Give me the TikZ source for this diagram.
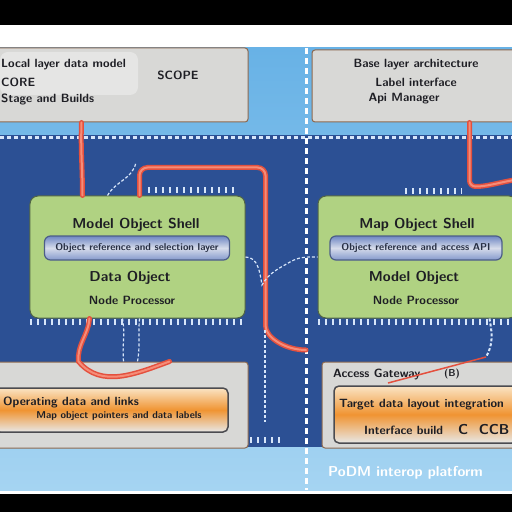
\documentclass[tikz,border=0pt]{standalone}
\usepackage{amsmath, amssymb}
\usetikzlibrary{arrows}
\usetikzlibrary{shapes}

\definecolor{skyBlue}{RGB}{104,178,230}
\definecolor{skyPale}{RGB}{165,212,242}
\definecolor{panelBlue}{RGB}{44,80,148}
\definecolor{boxGray}{RGB}{216,216,214}
\definecolor{boxEdge}{RGB}{140,105,80}
\definecolor{leafGreen}{RGB}{176,210,130}
\definecolor{leafEdge}{RGB}{80,100,70}
\definecolor{pillBlue}{RGB}{110,135,195}
\definecolor{pillPale}{RGB}{215,220,235}
\definecolor{wireRed}{RGB}{228,80,62}
\definecolor{wirePale}{RGB}{245,140,120}
\definecolor{tickWhite}{RGB}{215,230,250}
\definecolor{inkDark}{RGB}{30,30,36}
\definecolor{orangeDeep}{RGB}{240,148,50}
\definecolor{orangePale}{RGB}{250,228,196}

\begin{document}
\begin{tikzpicture}[x = 1bp, y = -1bp, font=\sffamily\bfseries]
	\tikzstyle{grayBoxStyle} = [draw = boxEdge, line width = 1bp, fill = boxGray, rounded corners = 3bp, inner sep = 0pt]
	\tikzstyle{greenBoxStyle} = [draw = leafEdge, line width = 1bp, fill = leafGreen, rounded corners = 8bp, inner sep = 0pt]
	\tikzstyle{pillStyle} = [draw = pillBlue!70!black, line width = 1.2bp, top color = pillBlue, bottom color = pillBlue!85, middle color = pillPale, rounded corners = 6bp, inner sep = 0pt, text = pillBlue!35!black]
	\tikzstyle{orangeStyle} = [draw = inkDark!80, line width = 1.5bp, top color = orangePale, bottom color = boxGray!60!white, middle color = orangeDeep, rounded corners = 5bp, inner sep = 0pt]
	\tikzstyle{labelStyle} = [inner sep = 0pt, text = inkDark]
	\tikzstyle{redWireStyle} = [draw = wireRed, line width = 1.5bp, double = wirePale, double distance = 2bp, line cap = round]
	\tikzstyle{thinWireStyle} = [draw = wireRed, line width = 1.5bp]
	\tikzstyle{dashWireStyle} = [draw = tickWhite, line width = 1.2bp, dash pattern = on 3bp off 2bp]
	\tikzstyle{tickRowStyle} = [draw = tickWhite, line width = 6bp, dash pattern = on 2bp off 5bp]
	\useasboundingbox (0,0) rectangle (512,512);
	% backdrop
	\fill[black] (0,0) rectangle (512,512);
	\fill[white] (0,25) rectangle (512,494);
	\shade[top color = skyBlue, bottom color = skyPale] (0,48) rectangle (512,490);
	\fill[panelBlue] (0,135) rectangle (512,447);
	\draw[draw = tickWhite, line width = 3bp, dash pattern = on 4bp off 3bp] (0,138) -- (512,138);
	\draw[tickRowStyle] (30,322) -- (245,322);
	\draw[tickRowStyle] (318,322) -- (512,322);
	\draw[tickRowStyle] (148,190) -- (235,190);
	\draw[tickRowStyle] (405,191) -- (462,191);
	\draw[tickRowStyle] (250,440) -- (285,440);
	\draw[draw = white, line width = 3bp, dash pattern = on 6bp off 4bp] (306,48) -- (306,490);
	% boxes
	\node[grayBoxStyle, minimum width = 253bp, minimum height = 74bp] (tlBox) at (121.5,85) {};
	\fill[white, opacity = 0.35, rounded corners = 8bp] (0,52) rectangle (138,95);
	\node[grayBoxStyle, minimum width = 205bp, minimum height = 72bp] (trBox) at (414.5,86) {};
	\node[greenBoxStyle, minimum width = 215bp, minimum height = 122bp] (lGreen) at (137.5,257) {};
	\node[greenBoxStyle, minimum width = 199bp, minimum height = 122bp] (rGreen) at (417.5,257) {};
	\node[pillStyle, minimum width = 185bp, minimum height = 24bp] (lPill) at (137,248) {Object reference and selection layer};
	\node[pillStyle, minimum width = 172bp, minimum height = 24bp] (rPill) at (416,248) {Object reference and access API};
	\node[grayBoxStyle, minimum width = 253bp, minimum height = 86bp] (blBox) at (121.5,405) {};
	\node[orangeStyle, minimum width = 233bp, minimum height = 44bp] (blOrange) at (111.5,410) {};
	\node[grayBoxStyle, minimum width = 195bp, minimum height = 86bp] (brBox) at (419.5,405) {};
	\node[orangeStyle, minimum width = 183bp, minimum height = 57bp] (brOrange) at (425.5,414.5) {};
	% texts
	\node[labelStyle, anchor = west, font = \large\sffamily\bfseries] (tlLineA) at (1,65) {Local layer data model};
	\node[labelStyle, anchor = west, font = \large\sffamily\bfseries] (tlLineB) at (1,82) {CORE};
	\node[labelStyle, anchor = west, font = \large\sffamily\bfseries] (tlLineC) at (1,99) {Stage and Builds};
	\node[labelStyle, font = \large\sffamily\bfseries] (tlScope) at (178,75) {SCOPE};
	\node[labelStyle, font = \large\sffamily\bfseries] (trLineA) at (416,65) {Base layer architecture};
	\node[labelStyle, font = \large\sffamily\bfseries] (trLineB) at (416,82) {Label interface};
	\node[labelStyle, font = \large\sffamily\bfseries] (trLineC) at (404,99) {Api Manager};
	\node[labelStyle, font = \Large\sffamily\bfseries] (lTitle) at (136,225) {Model Object Shell};
	\node[labelStyle, font = \Large\sffamily\bfseries] (lLineA) at (130,278) {Data Object};
	\node[labelStyle, font = \large\sffamily\bfseries] (lLineB) at (132,300) {Node Processor};
	\node[labelStyle, font = \Large\sffamily\bfseries] (rTitle) at (417,225) {Map Object Shell};
	\node[labelStyle, font = \Large\sffamily\bfseries] (rLineA) at (414,278) {Model Object};
	\node[labelStyle, font = \large\sffamily\bfseries] (rLineB) at (416,300) {Node Processor};
	\node[labelStyle, anchor = west, font = \large\sffamily\bfseries] (blLineA) at (3,402) {Operating data and links};
	\node[labelStyle] (blLineB) at (119,416) {Map object pointers and data labels};
	\node[labelStyle, anchor = west, font = \large\sffamily\bfseries] (brHead) at (333,375) {Access Gateway};
	\node[labelStyle] (brTag) at (452,374) {(B)};
	\node[labelStyle, anchor = west, font = \large\sffamily\bfseries] (brLineA) at (339,405) {Target data layout integration};
	\node[labelStyle, anchor = west, font = \large\sffamily\bfseries] (brLineB) at (364,430) {Interface build};
	\node[labelStyle, anchor = west, font = \Large\sffamily\bfseries] (brCode) at (458,430) {C\ \ CCB};
	\node[labelStyle, anchor = west, text = white, font = \Large\sffamily\bfseries] (footNote) at (328,473) {PoDM interop platform};
	% connectors
	\coordinate (midJoin) at (306,350);
	\coordinate (rEdge) at (514,180);
	\coordinate (tlDash) at (136,162);
	\coordinate (vDashTop) at (265,330);
	\coordinate (vDashBot) at (265,422);
	\coordinate (brHook) at (486,357);
	\coordinate (brLabel) at (388,383);
	\draw[redWireStyle] ([xshift = -40bp]tlBox.south) to[out = -92, in = 90] ([xshift = -55bp]lGreen.north);
	\draw[redWireStyle, rounded corners = 8bp] ([xshift = 2bp]lGreen.north) -- ++(0,-28) -- ++(126,0) -- ++(0,150) to[out = -90, in = 180] (midJoin);
	\draw[redWireStyle] ([xshift = -48bp]lGreen.south) to[out = -95, in = 95] ([xshift = -43bp]blBox.north) to[out = -50, in = 200] ([xshift = 48bp]blBox.north);
	\draw[redWireStyle, rounded corners = 6bp] ([xshift = 55bp]trBox.south) -- ++(0,64) to[out = 0, in = 190] (rEdge);
	\draw[dashWireStyle] ([xshift = -30bp]lGreen.north) to[out = 60, in = -100] (tlDash);
	\draw[dashWireStyle] (lGreen.east) to[out = 0, in = 100] (262,285) to[out = 60, in = 210] (290,262) to[out = 30, in = 180] (rGreen.west);
	\draw[dashWireStyle] ([xshift = -15bp]lGreen.south) to[out = -80, in = 95] ([xshift = 2bp]blBox.north);
	\draw[dashWireStyle] ([xshift = 2bp]lGreen.south) to[out = -95, in = 80] ([xshift = 16bp]blBox.north);
	\draw[dashWireStyle, line width = 2bp] (vDashTop) -- (vDashBot);
	\draw[dashWireStyle, line width = 2bp] ([xshift = 72bp]rGreen.south) to[out = -80, in = 60] (brHook);
	\draw[thinWireStyle] (brHook) -- (brLabel);
\end{tikzpicture}
\end{document}
